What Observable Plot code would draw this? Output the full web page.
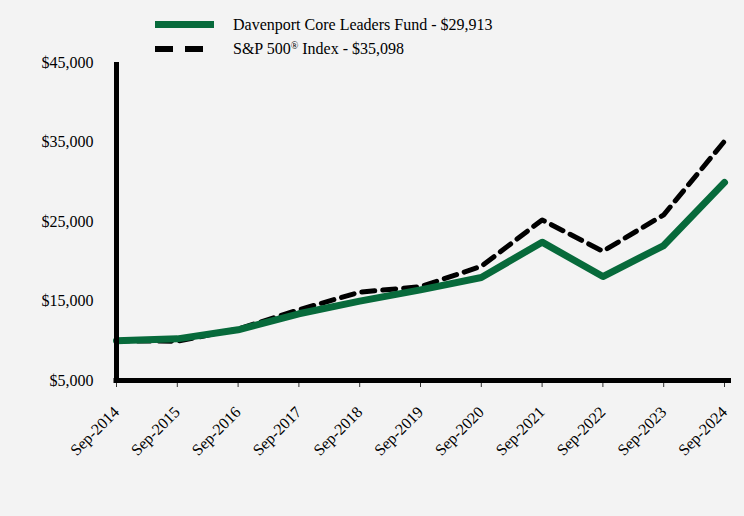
<!DOCTYPE html>
<html>
<head>
<meta charset="utf-8">
<script src="https://cdn.jsdelivr.net/npm/d3@7"></script>
<script src="https://cdn.jsdelivr.net/npm/@observablehq/plot@0.6"></script>
<style>
  html, body { margin: 0; padding: 0; background: #f3f3f3; }
  #wrap { position: relative; width: 744px; height: 516px; background: #f3f3f3; font-family: "Liberation Serif", "Times New Roman", serif; }
  #chart svg { display: block; }
  #legend { position: absolute; left: 0; top: 0; width: 744px; height: 60px; }
  .lg { position: absolute; left: 233px; font-size: 16px; line-height: 16px; color: #000; white-space: nowrap; }
  .lg sup { font-size: 10px; line-height: 0; vertical-align: 5px; }
</style>
</head>
<body>
<div id="wrap">
  <div id="chart"></div>
  <div id="legend">
    <svg width="744" height="60" style="position:absolute;left:0;top:0">
      <line x1="155" x2="214" y1="24.5" y2="24.5" stroke="#076a3b" stroke-width="7"></line>
      <line x1="155" x2="204" y1="49" y2="49" stroke="#000" stroke-width="6" stroke-dasharray="18,12"></line>
    </svg>
    <div class="lg" style="top:17px">Davenport Core Leaders Fund - $29,913</div>
    <div class="lg" style="top:41px">S&amp;P 500<sup>®</sup> Index - $35,098</div>
  </div>
</div>
<script>
const periods = ["Sep-2014","Sep-2015","Sep-2016","Sep-2017","Sep-2018","Sep-2019","Sep-2020","Sep-2021","Sep-2022","Sep-2023","Sep-2024"];
const fundValues = [10000, 10240, 11380, 13390, 14980, 16400, 17950, 22400, 18080, 21980, 29913];
const sp500Values = [10000, 9940, 11470, 13890, 16110, 16800, 19360, 25200, 21250, 25840, 35098];
const yTicks = [5000, 15000, 25000, 35000, 45000];

const fund = periods.map((p, i) => ({period: p, value: fundValues[i]}));
const sp = periods.map((p, i) => ({period: p, value: sp500Values[i]}));

const chart = Plot.plot({
  width: 744,
  height: 516,
  marginLeft: 116,
  marginRight: 20,
  marginTop: 62,
  marginBottom: 136,
  style: {background: "transparent", fontFamily: "Liberation Serif, Times New Roman, serif", fontSize: "16px", color: "#000"},
  x: {type: "point", domain: periods, padding: 0, round: false},
  y: {domain: [5000, 45000]},
  marks: [
    Plot.axisY({ticks: yTicks, tickFormat: d3.format("$,"), tickSize: 0, tickPadding: 23, fontSize: 16, label: null}),
    Plot.axisX({tickRotate: -45, tickSize: 7, tickPadding: 22, fontSize: 16, label: null, stroke: "#333"}),
    Plot.line(sp, {x: "period", y: "value", stroke: "#000", strokeWidth: 5, strokeDasharray: "13,8"}),
    Plot.line(fund, {x: "period", y: "value", stroke: "#076a3b", strokeWidth: 7}),
    Plot.ruleX([periods[0]], {y1: 5000, y2: 45000, stroke: "#000", strokeWidth: 5}),
    Plot.ruleY([5000], {stroke: "#000", strokeWidth: 5, insetLeft: -2.5, insetRight: -7})
  ]
});
document.getElementById("chart").appendChild(chart);
</script>
</body>
</html>
